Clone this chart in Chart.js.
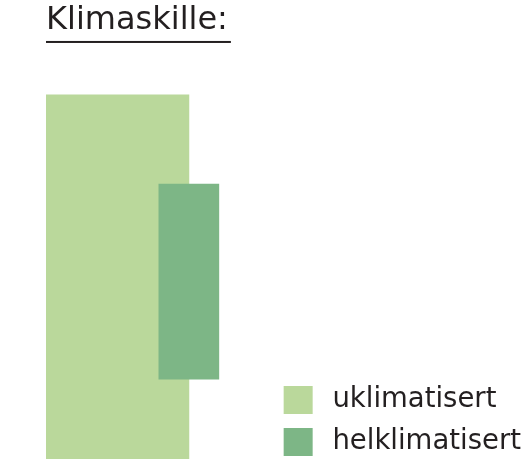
<!DOCTYPE html>
<html>
<head>
<meta charset="utf-8">
<script src="https://cdn.jsdelivr.net/npm/chart.js@4/dist/chart.umd.min.js"></script>
<style>
  html, body { margin: 0; padding: 0; background: #ffffff; }
  #wrap { width: 531px; height: 459px; }
</style>
</head>
<body>
<div id="wrap"><canvas id="myChart"></canvas></div>
<script>
// data
var seriesNames = ['uklimatisert', 'helklimatisert'];
var wallPos = [31.1, 62.2];      // position along the wall axis (0-100)
var tempLow = [0, 21.9];
var tempHigh = [100, 75.4];

var titleText = 'Klimaskille:';
var titleFont = { family: 'DejaVu Sans', size: 32, weight: 'normal' };
var titlePad = { top: 1, bottom: 55 };

// draws the line under the title
var underlinePlugin = {
    id: 'underline',
    afterDraw: function (chart) {
        var t = chart.titleBlock;
        if (!t) return;
        var ctx = chart.ctx;
        var f = Chart.helpers.toFont(titleFont);
        ctx.save();
        ctx.font = f.string;
        var w = ctx.measureText(titleText).width;
        var y = t.top + titlePad.top + f.lineHeight / 2 + f.size * 0.68;
        ctx.fillStyle = '#231f20';
        ctx.fillRect(t.left, y - 1, w + 3, 2);
        ctx.restore();
    }
};

// legend sits a bit lower than the plot bottom allows
var legendNudge = {
    id: 'legendNudge',
    afterLayout: function (chart) {
        if (!chart.legend) return;
        chart.legend.top += 5;
        chart.legend.bottom += 5;
    }
};

var ctx = document.getElementById('myChart').getContext('2d');
var myChart = new Chart(ctx, {
    type: 'bar',
    data: {
        datasets: [
            {
                label: seriesNames[0],
                data: [{ x: wallPos[0], y: [tempLow[0], tempHigh[0]] }],
                backgroundColor: '#bad89b',
                borderWidth: 0,
                barThickness: 143,
                stack: 'wall',
                order: 2
            },
            {
                label: seriesNames[1],
                data: [{ x: wallPos[1], y: [tempLow[1], tempHigh[1]] }],
                backgroundColor: '#7db686',
                borderWidth: 0,
                barThickness: 60,
                stack: 'wall',
                order: 1
            }
        ]
    },
    options: {
        responsive: true,
        maintainAspectRatio: false,
        animation: false,
        layout: {
            padding: { left: 46, right: 0, top: 0, bottom: 0 }
        },
        scales: {
            x: { type: 'linear', min: 0, max: 100, offset: false, display: false },
            y: { min: 0, max: 100, stacked: false, display: false }
        },
        plugins: {
            tooltip: { enabled: false },
            title: {
                display: true,
                text: titleText,
                align: 'start',
                color: '#231f20',
                font: titleFont,
                padding: titlePad
            },
            legend: {
                position: 'right',
                align: 'end',
                fullSize: false,
                maxWidth: 280,
                labels: {
                    color: '#231f20',
                    font: { family: 'DejaVu Sans', size: 27.5 },
                    boxWidth: 41,    // white border eats 6px each side
                    boxHeight: 40,
                    padding: 2,
                    sort: function (a, b) { return a.datasetIndex - b.datasetIndex; },
                    generateLabels: function (chart) {
                        var items = Chart.defaults.plugins.legend.labels.generateLabels(chart);
                        items.forEach(function (it) {
                            it.lineWidth = 12;
                            it.strokeStyle = '#ffffff';
                        });
                        return items;
                    }
                }
            }
        }
    },
    plugins: [underlinePlugin, legendNudge]
});
</script>
</body>
</html>
